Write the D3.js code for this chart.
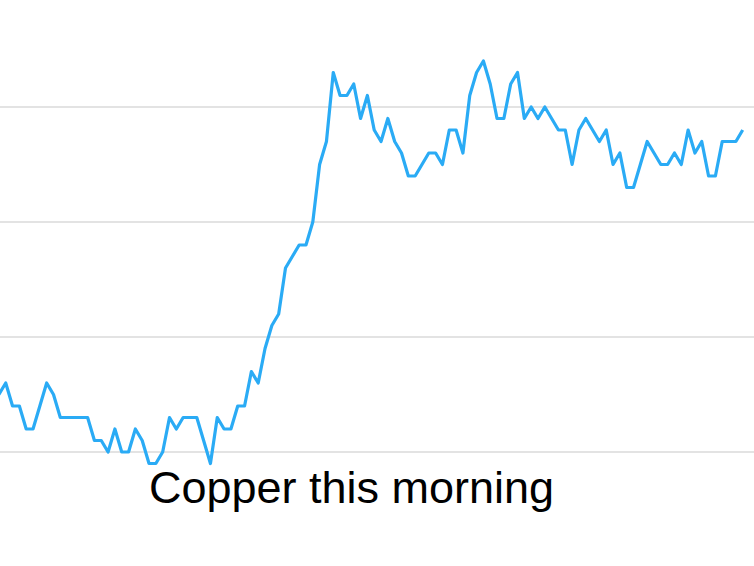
<!DOCTYPE html>
<html>
<head>
<meta charset="utf-8">
<script src="https://cdn.jsdelivr.net/npm/d3@7"></script>
<style>
  html, body { margin: 0; padding: 0; background: #fff; }
  svg { display: block; }
</style>
</head>
<body>
<div id="chart"></div>
<script>
// price moves, in ticks above the session low gridline
const prices = [
  5, 6, 4, 4, 2, 2, 4, 6, 5, 3,
  3, 3, 3, 3, 1, 1, 0, 2, 0, 0,
  2, 1, -1, -1, 0, 3, 2, 3, 3, 3,
  1, -1, 3, 2, 2, 4, 4, 7, 6, 9,
  11, 12, 16, 17, 18, 18, 20, 25, 27, 33,
  31, 31, 32, 29, 31, 28, 27, 29, 27, 26,
  24, 24, 25, 26, 26, 25, 28, 28, 26, 31,
  33, 34, 32, 29, 29, 32, 33, 29, 30, 29,
  30, 29, 28, 28, 25, 28, 29, 28, 27, 28,
  25, 26, 23, 23, 25, 27, 26, 25, 25, 26,
  25, 28, 26, 27, 24, 24, 27, 27, 27, 28
];
const gridTicks = [0, 10, 20, 30];
const title = "Copper this morning";

const width = 754, height = 566;

const svg = d3.select("#chart")
  .append("svg")
  .attr("width", width)
  .attr("height", height);

const x = d3.scaleLinear()
  .domain([0, prices.length - 1])
  .range([-1.1, 742.7]);

const y = d3.scaleLinear()
  .domain([0, 30])
  .range([452, 107]);

// horizontal grid
svg.append("g")
  .selectAll("line")
  .data(gridTicks)
  .join("line")
  .attr("x1", 0)
  .attr("x2", width)
  .attr("y1", d => y(d))
  .attr("y2", d => y(d))
  .attr("stroke", "#e3e3e3")
  .attr("stroke-width", 2);

const line = d3.line()
  .x((d, i) => x(i))
  .y(d => y(d));

svg.append("path")
  .datum(prices)
  .attr("fill", "none")
  .attr("stroke", "#2aabf5")
  .attr("stroke-width", 3.2)
  .attr("stroke-linejoin", "round")
  .attr("d", line);

svg.append("text")
  .attr("x", 351.5)
  .attr("y", 503)
  .attr("text-anchor", "middle")
  .style("font-family", "'Liberation Sans', Arial, Helvetica, sans-serif")
  .style("font-size", "45px")
  .attr("fill", "#000")
  .text(title);
</script>
</body>
</html>
